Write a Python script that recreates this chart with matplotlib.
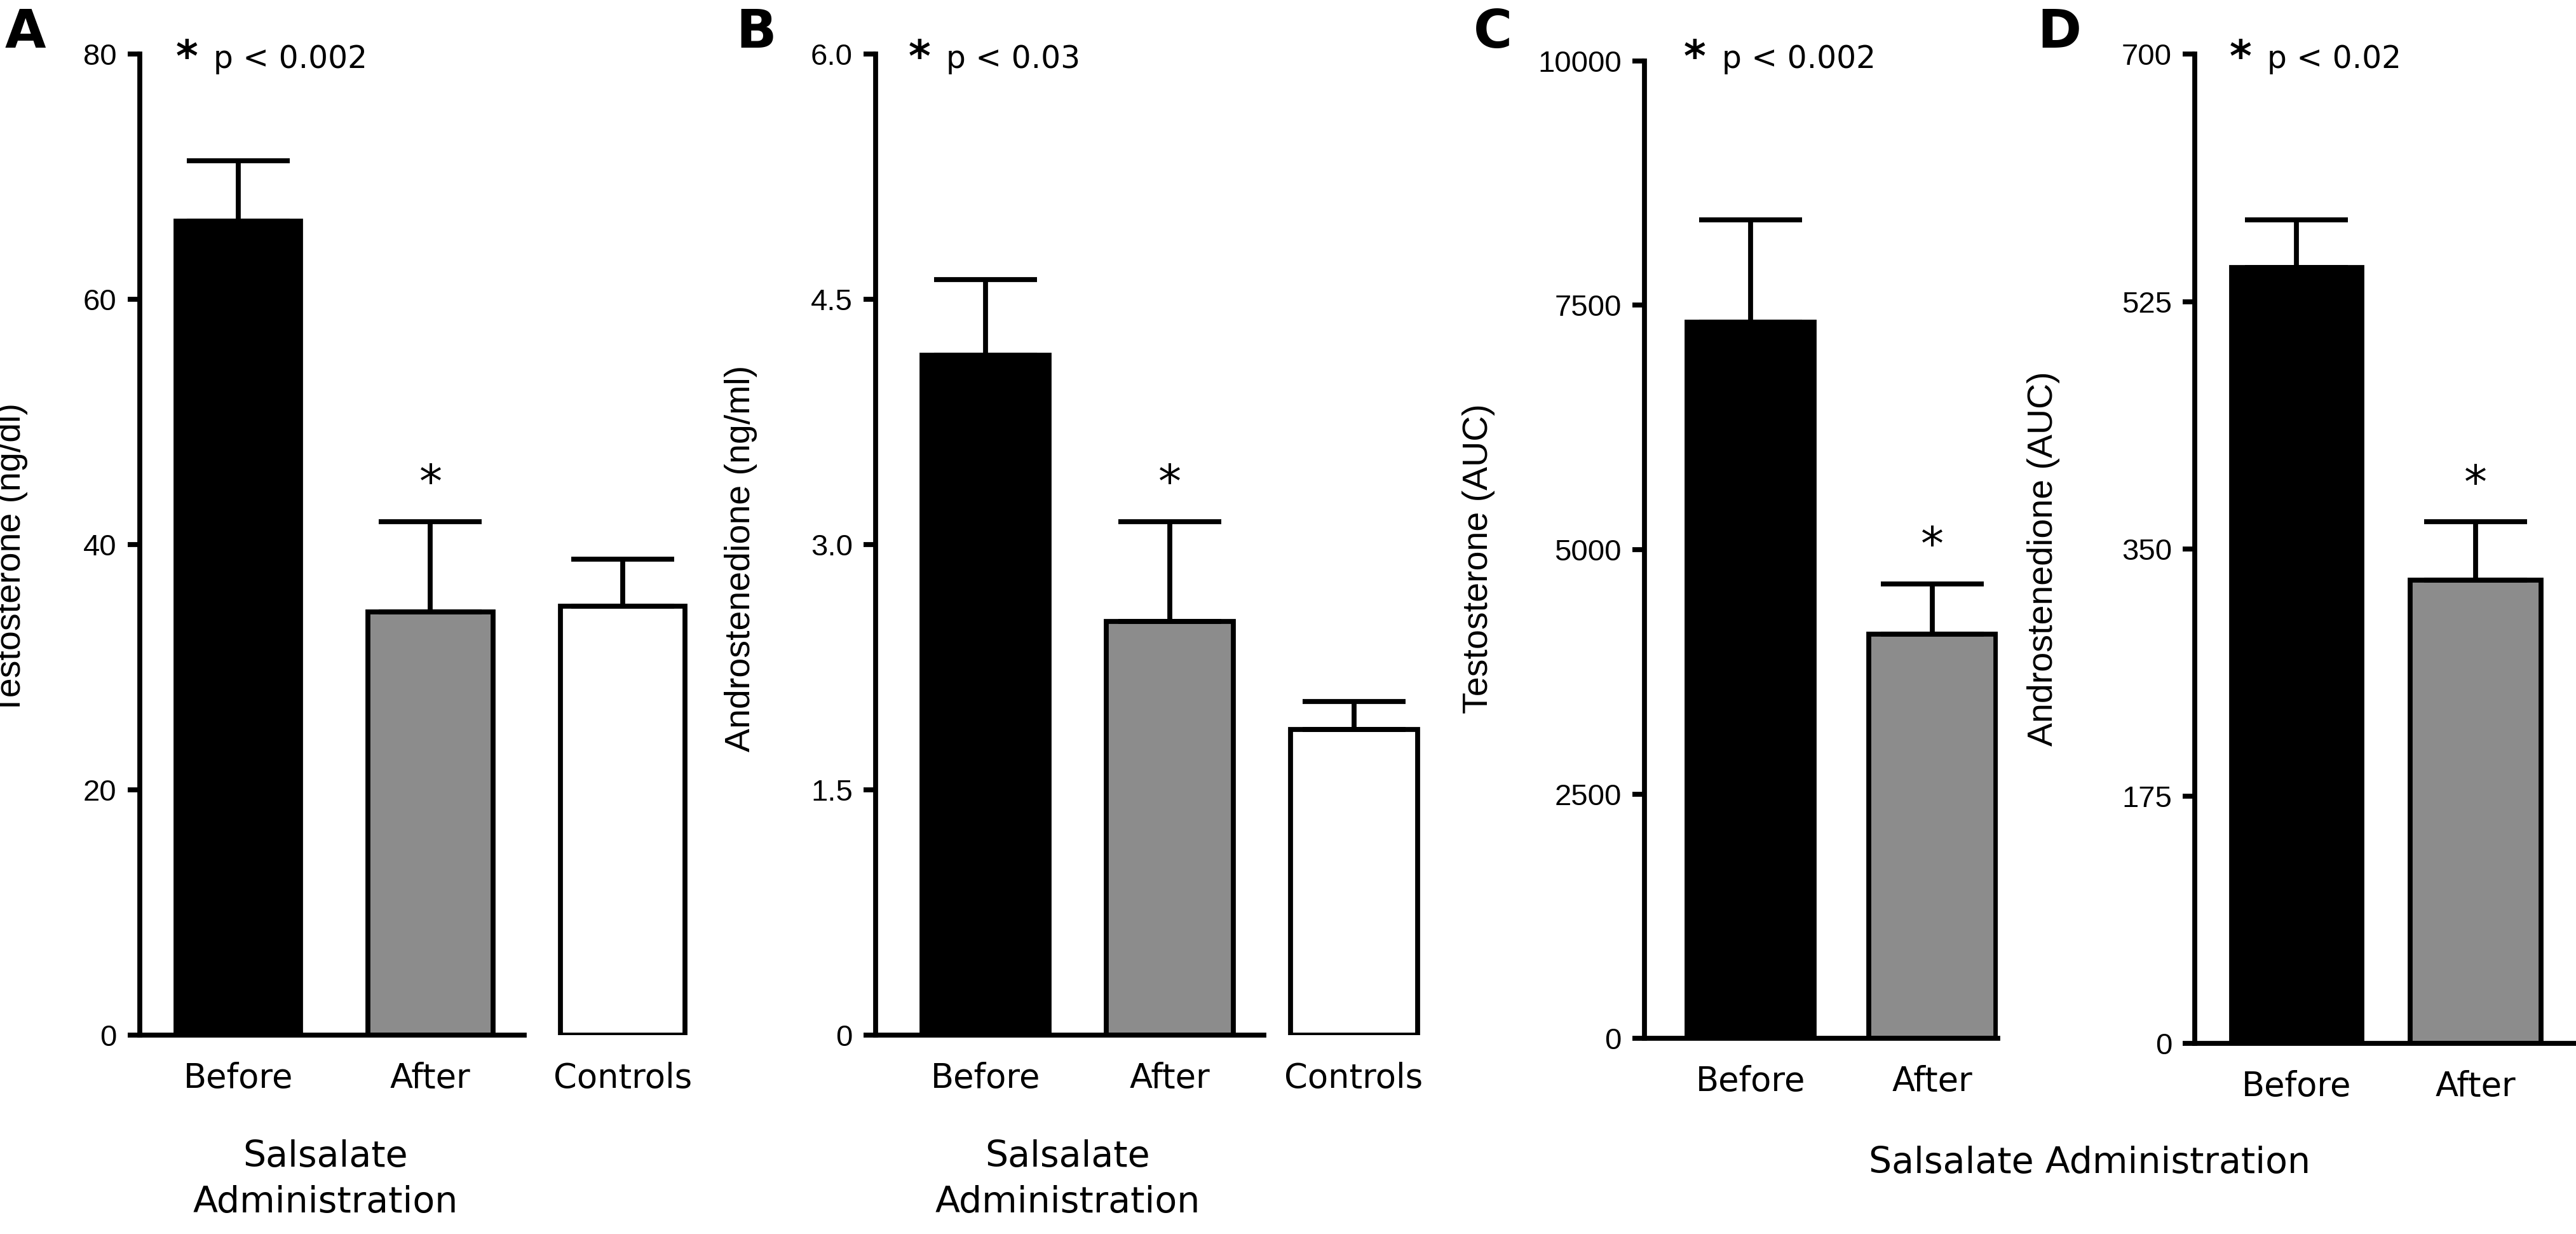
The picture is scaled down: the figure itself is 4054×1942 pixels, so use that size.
import numpy as np
import matplotlib
matplotlib.use("Agg")
import matplotlib.pyplot as plt

# data
groups3 = ["Before", "After", "Controls"]
groups2 = ["Before", "After"]

testo_ngdl = [66.4, 34.5, 35.0]
testo_ngdl_sem = [4.9, 7.4, 3.8]

andro_ngml = [4.16, 2.53, 1.87]
andro_ngml_sem = [0.46, 0.61, 0.17]

testo_auc = [7326, 4138]
testo_auc_sem = [1044, 509]

andro_auc = [549, 328]
andro_auc_sem = [34, 41]

pvals = ["p < 0.002", "p < 0.03", "p < 0.002", "p < 0.02"]

colors3 = ["black", "#8c8c8c", "white"]

W, H = 1568.0, 751.0   # layout measured on the downscaled reference

fig = plt.figure(figsize=(20.27, 9.71), dpi=200)

LW = 2.8
TICKFONT = ["Liberation Sans", "DejaVu Sans"]
LABFONT = ["Liberation Sans", "DejaVu Sans"]


def make_ax(l, r, t, b):
    return fig.add_axes([l / W, 1 - b / H, (r - l) / W, (b - t) / H])


def panel(ax, names, vals, sem, ylim, yticks, yticklabels, xlim, spine_end,
          width, ylabel, ylab_x, star_idx):
    x = np.arange(len(names))
    ax.bar(x, vals, width=width, color=colors3[:len(names)], edgecolor="black",
           linewidth=LW, zorder=2)
    ax.errorbar(x, vals, yerr=[np.zeros(len(vals)), sem], fmt="none", ecolor="black",
                elinewidth=LW, capsize=29, capthick=LW, zorder=3)
    ax.set_xlim(*xlim)
    ax.set_ylim(*ylim)
    ax.set_yticks(yticks)
    ax.set_yticklabels(yticklabels, family=TICKFONT, fontsize=17)
    ax.set_xticks(x)
    ax.set_xticklabels(names, family="DejaVu Sans", fontsize=19)
    ax.tick_params(axis="x", length=0, pad=15)
    ax.tick_params(axis="y", length=7, width=LW, pad=6, direction="out")
    for s in ["top", "right"]:
        ax.spines[s].set_visible(False)
    ax.spines["left"].set_linewidth(LW)
    ax.spines["bottom"].set_linewidth(LW)
    ax.spines["bottom"].set_bounds(xlim[0], spine_end)
    ax.set_ylabel(ylabel, family=LABFONT, fontsize=20)
    ax.yaxis.set_label_coords(ylab_x / W, 1 - 340 / H, transform=fig.transFigure)
    for i in star_idx:
        ax.annotate("*", xy=(x[i], vals[i] + sem[i]), xytext=(0, 21),
                    textcoords="offset points", ha="center", va="center",
                    fontsize=26, family="DejaVu Sans")


axA = make_ax(85, 425, 33, 630)
panel(axA, groups3, testo_ngdl, testo_ngdl_sem, (0, 80), [0, 20, 40, 60, 80],
      ["0", "20", "40", "60", "80"], (-0.513, 2.393), 1.487, 0.65,
      "Testosterone (ng/dl)", 17, [1])

axB = make_ax(533, 870, 33, 630)
panel(axB, groups3, andro_ngml, andro_ngml_sem, (0, 6.0), [0, 1.5, 3.0, 4.5, 6.0],
      ["0", "1.5", "3.0", "4.5", "6.0"], (-0.598, 2.41), 1.51, 0.69,
      "Androstenedione (ng/ml)", 461, [1])

axC = make_ax(1001, 1216, 37, 632)
panel(axC, groups2, testo_auc, testo_auc_sem, (0, 10000), [0, 2500, 5000, 7500, 10000],
      ["0", "2500", "5000", "7500", "10000"], (-0.586, 1.36), 1.36, 0.70,
      "Testosterone (AUC)", 910, [1])

axD = make_ax(1336, 1568, 33, 635)
panel(axD, groups2, andro_auc, andro_auc_sem, (0, 700), [0, 175, 350, 525, 700],
      ["0", "175", "350", "525", "700"], (-0.569, 1.56), 1.56, 0.73,
      "Androstenedione (AUC)", 1254, [1])

# panel letters
for lab, px in zip("ABCD", [3, 448, 897, 1240]):
    fig.text(px / W, 1 - 20 / H, lab, fontsize=30, fontweight="bold",
             family="DejaVu Sans", ha="left", va="center")

# p-value notes: star then text
for txt, px in zip(pvals, [107, 553, 1025, 1357]):
    fig.text(px / W, 1 - 36 / H, "*", fontsize=24, fontweight="bold",
             family="DejaVu Sans", ha="left", va="center")
    fig.text((px + 23) / W, 1 - 36 / H, txt, fontsize=17.5, family="DejaVu Sans",
             ha="left", va="center")

# group captions
fig.text(198 / W, 1 - 718 / H, "Salsalate\nAdministration", fontsize=20.5,
         family="DejaVu Sans", ha="center", va="center", linespacing=1.4)
fig.text(650 / W, 1 - 718 / H, "Salsalate\nAdministration", fontsize=20.5,
         family="DejaVu Sans", ha="center", va="center", linespacing=1.4)
fig.text(1272 / W, 1 - 708 / H, "Salsalate Administration", fontsize=20.5,
         family="DejaVu Sans", ha="center", va="center")

fig.savefig("out.png", dpi=200, facecolor="white")
